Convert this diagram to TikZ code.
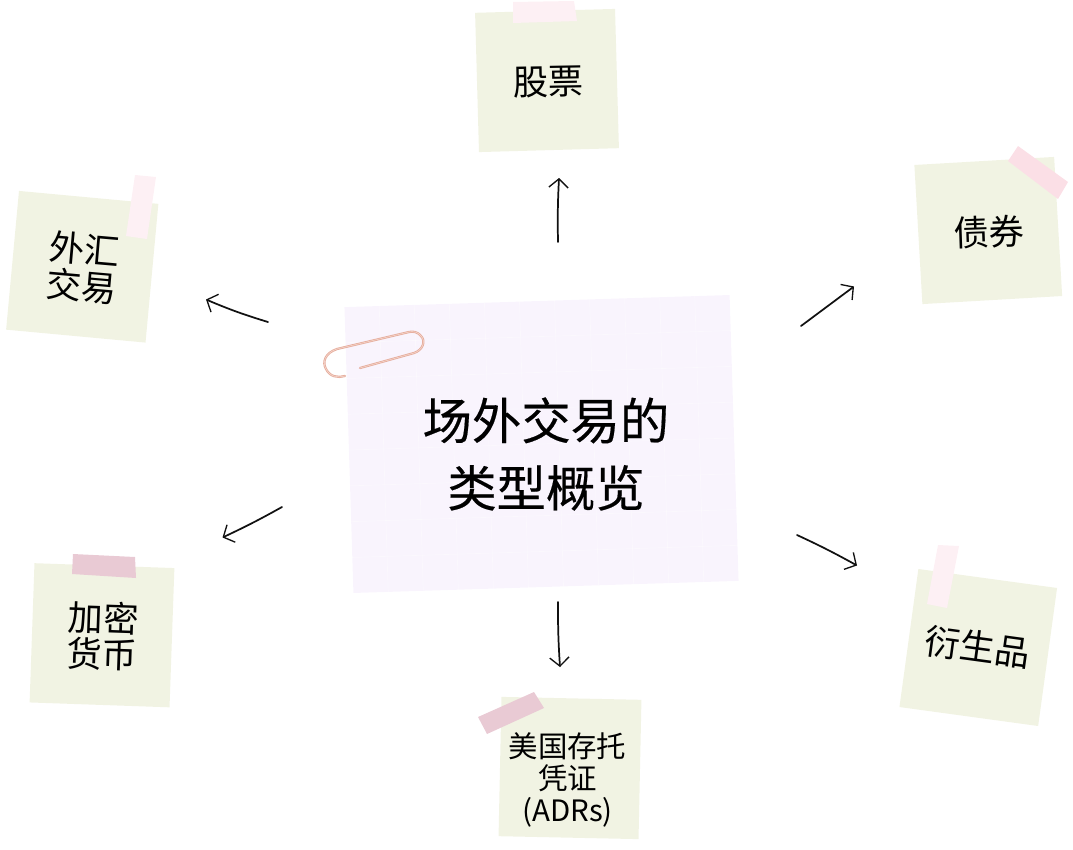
\documentclass[tikz,border=0pt]{standalone}
\usepackage{fontspec}
\newfontfamily\cjk{Noto Sans CJK SC}
\newfontfamily\cjktitle[FakeBold=0.35]{Noto Sans CJK SC}
\usetikzlibrary{arrows.meta,calc}
\definecolor{notegreen}{HTML}{F1F3E3}
\definecolor{paperlilac}{HTML}{F9F4FD}
\definecolor{tapelight}{HTML}{FDF0F4}
\definecolor{tapemid}{HTML}{FBDFE6}
\definecolor{tapedark}{HTML}{E9CAD4}
\definecolor{clipcol}{HTML}{E6AE9E}
\definecolor{clipshine}{HTML}{F6D9CF}
\definecolor{inkblack}{HTML}{111111}
\tikzset{
  stickynote/.style={fill=notegreen,draw=none,inner sep=0pt,minimum width=105pt,minimum height=104.5pt},
  mainpaper/.style={fill=paperlilac,draw=none,inner sep=0pt,minimum width=289pt,minimum height=214.5pt,rotate=1.8},
  titletext/.style={inner sep=0pt,align=center,text=black,font={\cjktitle\fontsize{37}{50.5}\selectfont}},
  notetext/.style={inner sep=0pt,align=center,text=black,font={\cjk\fontsize{26.4}{27.5}\selectfont}},
  smalltext/.style={inner sep=0pt,align=center,text=black,font={\cjk\fontsize{22.1}{23.8}\selectfont}},
  handarrow/.style={draw=inkblack,line width=1.3pt,line cap=round,-{Straight Barb[length=6.5pt,width=14.5pt,line width=1pt]}},
}
\begin{document}
\begin{tikzpicture}[x=.75pt,y=-.75pt]
\useasboundingbox (0,0) rectangle (1073,849);
% central paper
\node[mainpaper] (paper) at (541.5,444) {};
\begin{scope}
  \clip (paper.north west) -- (paper.north east) -- (paper.south east) -- (paper.south west) -- cycle;
  \foreach \t in {1,...,10}{
    \draw[white,opacity=.4,line width=.5pt]
      ($(paper.north west)!\t/11!(paper.north east)$) -- ($(paper.south west)!\t/11!(paper.south east)$);
  }
  \foreach \t in {1,...,7}{
    \draw[white,opacity=.4,line width=.5pt]
      ($(paper.north west)!\t/8!(paper.south west)$) -- ($(paper.north east)!\t/8!(paper.south east)$);
  }
\end{scope}
\node[titletext] (title) at (546,454) {场外交易的\\类型概览};
% paperclip
\coordinate (clipa) at (360,368);
\coordinate (clipb) at (345,376);
\draw[clipcol,line width=1.7pt,line cap=round,line join=round]
  (clipa) -- (414,353) .. controls (423,350) and (426,341) .. (421,336)
  .. controls (418,332) and (413,331) .. (409,332) -- (337,349)
  .. controls (325,353) and (322,362) .. (326,369) .. controls (330,377) and (338,378) .. (clipb);
\draw[clipshine,line width=.4pt,line cap=round,line join=round]
  (clipa) -- (414,353) .. controls (423,350) and (426,341) .. (421,336)
  .. controls (418,332) and (413,331) .. (409,332) -- (337,349)
  .. controls (325,353) and (322,362) .. (326,369) .. controls (330,377) and (338,378) .. (clipb);
% sticky notes
\node[stickynote,rotate=1.6] (stocks) at (547,80.5) {};
\node[stickynote,rotate=-5.3] (forex) at (82.25,266.75) {};
\node[stickynote,rotate=3.3] (bonds) at (988.25,230.5) {};
\node[stickynote,rotate=-2] (crypto) at (102,635.25) {};
\node[stickynote,rotate=-7.8] (deriv) at (978.25,647.5) {};
\node[stickynote,rotate=-1.2] (adr) at (570,768) {};
% tapes
\fill[tapelight] (513,2) -- (574,1) -- (577,21) -- (513,23) -- cycle;
\fill[tapelight] (135,175) -- (156,177) -- (147,239) -- (126,236) -- cycle;
\fill[tapemid] (1018,146) -- (1068,182) -- (1058,199) -- (1008,161) -- cycle;
\fill[tapedark] (73,554) -- (135,557) -- (136,578) -- (72,574) -- cycle;
\fill[tapelight] (938,545) -- (959,546) -- (947,608) -- (927,604) -- cycle;
\fill[tapedark] (534,692) -- (544,708) -- (487,734) -- (478,717) -- cycle;
% labels
\node[notetext,rotate=1] (stockst) at (548,82) {股票};
\node[notetext,rotate=-5] (forext) at (83,268) {外汇\\交易};
\node[notetext,rotate=2] (bondst) at (989,232) {债券};
\node[notetext,rotate=-2] (cryptot) at (103,636) {加密\\货币};
\node[notetext,rotate=-7.8] (derivt) at (978,647) {衍生品};
\node[smalltext] (adrt) at (567.5,780) {美国存托\\凭证\\(ADRs)};
% arrows
\coordinate (upS) at (558,242);       \coordinate (upE) at (559,178);
\coordinate (downS) at (558,602);     \coordinate (downE) at (560,667);
\coordinate (luS) at (268,322);       \coordinate (luE) at (206,299.5);
\coordinate (ruS) at (801,326);       \coordinate (ruE) at (854,286.5);
\coordinate (ldS) at (282,507);       \coordinate (ldE) at (222.5,537.5);
\coordinate (rdS) at (797,535);       \coordinate (rdE) at (857,565.5);
\draw[handarrow] (upS) to[bend left=2] (upE);
\draw[handarrow] (downS) to[bend right=2] (downE);
\draw[handarrow] (luS) to[bend left=3] (luE);
\draw[handarrow] (ruS) -- (ruE);
\draw[handarrow] (ldS) to[bend left=2] (ldE);
\draw[handarrow] (rdS) to[bend left=2] (rdE);
\end{tikzpicture}
\end{document}
